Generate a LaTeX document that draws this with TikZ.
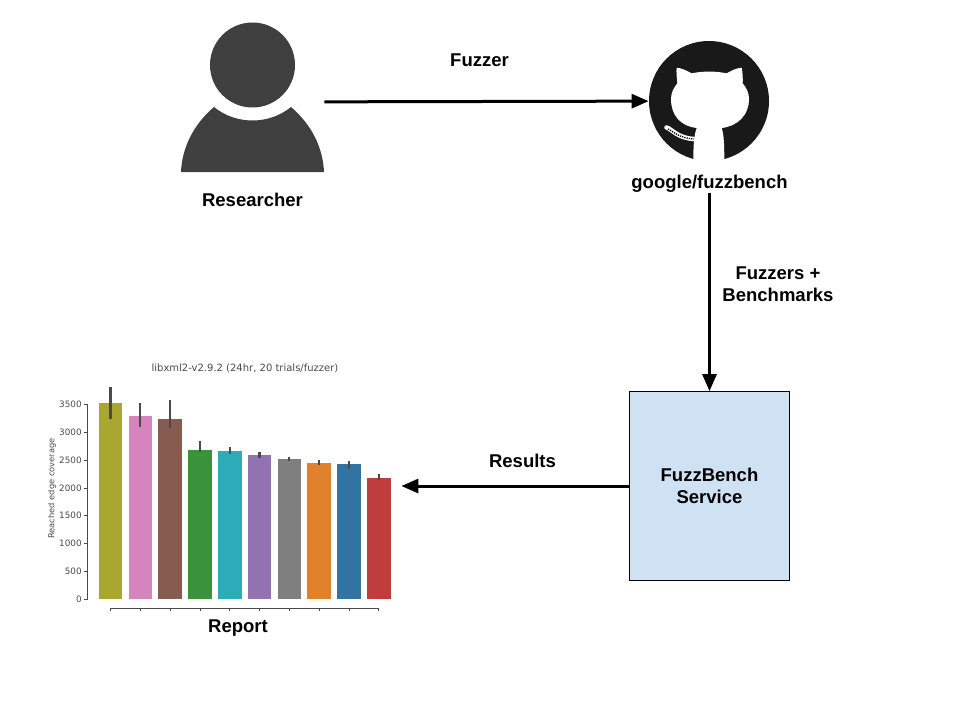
\documentclass[tikz,border=0pt]{standalone}
\usepackage{fontspec}
\setmainfont{Liberation Sans}
\newfontfamily\plotfont{DejaVu Sans}
\usepackage{tikz}
\usetikzlibrary{arrows.meta}
\definecolor{iconfill}{HTML}{3F3F3F}
\definecolor{servicefill}{HTML}{CFE2F3}
\definecolor{plotgray}{HTML}{4A4A4A}
\tikzset{every picture/.style={line width=0.75pt}}

\begin{document}
\begin{tikzpicture}[x=1pt,y=-1pt,
    textlabel/.style={font=\fontsize{18.5}{22}\selectfont\bfseries, align=center, inner sep=0pt},
    flow/.style={line width=3pt, -{Triangle[length=17pt,width=14pt]}},
    ticktext/.style={font=\plotfont\fontsize{8.8}{10}\selectfont, text=plotgray, inner sep=0pt},
    axisline/.style={draw=plotgray, line width=0.8pt},
    errbar/.style={draw=plotgray, line width=2.2pt}]
        \useasboundingbox (0,0) rectangle (960,720);

        % icons
        \node[minimum width=143pt, minimum height=70pt, inner sep=0pt] (researcher) at (252.5,102) {};
        \fill[iconfill] (252.5,65) circle (42.5);
        \fill[iconfill] (181,172) .. controls (182,148) and (193,125) .. (214,107)
            .. controls (236,125) and (269,125) .. (291,107)
            .. controls (312,125) and (323,148) .. (324,172) -- cycle;
        \node[circle, fill=black!90, minimum size=120pt, inner sep=0pt] (github) at (709,101) {};
        \fill[white] (676.7,67.7) .. controls (682,68) and (687,71) .. (691.7,73.3)
            .. controls (703,71) and (715,71) .. (726.7,73.3)
            .. controls (731,71) and (736,68) .. (741.7,67.7)
            .. controls (742.5,72) and (743,78) .. (742.7,83.3)
            .. controls (746.5,88) and (749,93) .. (749,99)
            .. controls (749,115) and (738,126) .. (721.7,128)
            .. controls (724,135) and (724.3,145) .. (724.3,162)
            -- (693.3,162) .. controls (693.3,145) and (694,135) .. (696.7,128)
            .. controls (680,126) and (671,115) .. (671,99)
            .. controls (671,93) and (673.5,88) .. (677.3,83.3)
            .. controls (677,78) and (676,72) .. (676.7,67.7) -- cycle;
        \draw[white, line width=4.5pt, line cap=round] (666.5,127.5) .. controls (672,129) and (677,138) .. (694,139);
        \draw[black, line width=1.3pt, densely dotted] (668,129) .. controls (673,131) and (678,138) .. (694,139);

        % labels
        \node[textlabel] (researcherlabel) at (252.5,199.5) {Researcher};
        \node[textlabel] (fuzzerlabel) at (479.5,60) {Fuzzer};
        \node[textlabel] (repolabel) at (709.5,183.5) {google/fuzzbench};
        \node[textlabel] (inputlabel) at (778,284) {Fuzzers +\\Benchmarks};
        \node[textlabel] (resultslabel) at (522.5,461) {Results};
        \node[textlabel] (reportlabel) at (238,628) {Report};

        % service box
        \node[draw=black, fill=servicefill, minimum width=160pt, minimum height=189pt, textlabel] (service) at (709.5,486) {FuzzBench\\Service};

        % chart
        \node[ticktext, font=\plotfont\fontsize{10}{12}\selectfont] (charttitle) at (245,368.5) {libxml2-v2.9.2 (24hr, 20 trials/fuzzer)};
        \node[ticktext, rotate=90, font=\plotfont\fontsize{8.3}{10}\selectfont] (ylabel) at (52,488.5) {Reached edge coverage};
        \draw[axisline] (87.7,404.5) -- (87.7,599);
        \draw[axisline] (110.7,608) -- (379,608);
        \foreach \val/\ypos in {0/599,500/571.2,1000/543.4,1500/515.7,2000/487.9,2500/460.1,3000/432.3,3500/404.6} {
            \draw[axisline] (83.5,\ypos) -- (87.7,\ypos);
            \node[ticktext, anchor=east] (tick\val) at (82,\ypos) {\val};
        }
        \foreach \i/\col/\bartop/\errtop/\errbot in {
            0/A9A632/402.7/387/418.5,
            1/D684BD/416.3/402.5/427,
            2/875C50/419/399.5/427.5,
            3/3A923A/450.3/440.5/452,
            4/2CABB8/451/447/454,
            5/9372B2/455/452/458,
            6/7F7F7F/459/456.5/461,
            7/E1812C/463.3/460/465,
            8/3274A1/464/461/469,
            9/C03D3E/478.3/473.5/479.5} {
            \definecolor{barcol}{HTML}{\col}
            \pgfmathsetmacro{\xmid}{110.5+\i*29.8}
            \fill[barcol] (\xmid-11.8,\bartop) rectangle (\xmid+11.8,599);
            \draw[errbar] (\xmid,\errtop) -- (\xmid,\errbot);
            \draw[axisline] (\xmid,608) -- (\xmid,611);
        }
        \node[minimum width=303pt, minimum height=240pt, inner sep=0pt] (report) at (249.5,486) {};

        \draw[flow] (researcher) edge (github);
        \draw[flow] (repolabel) edge (service);
        \draw[flow] (service) edge (report);
    \end{tikzpicture}
\end{document}
